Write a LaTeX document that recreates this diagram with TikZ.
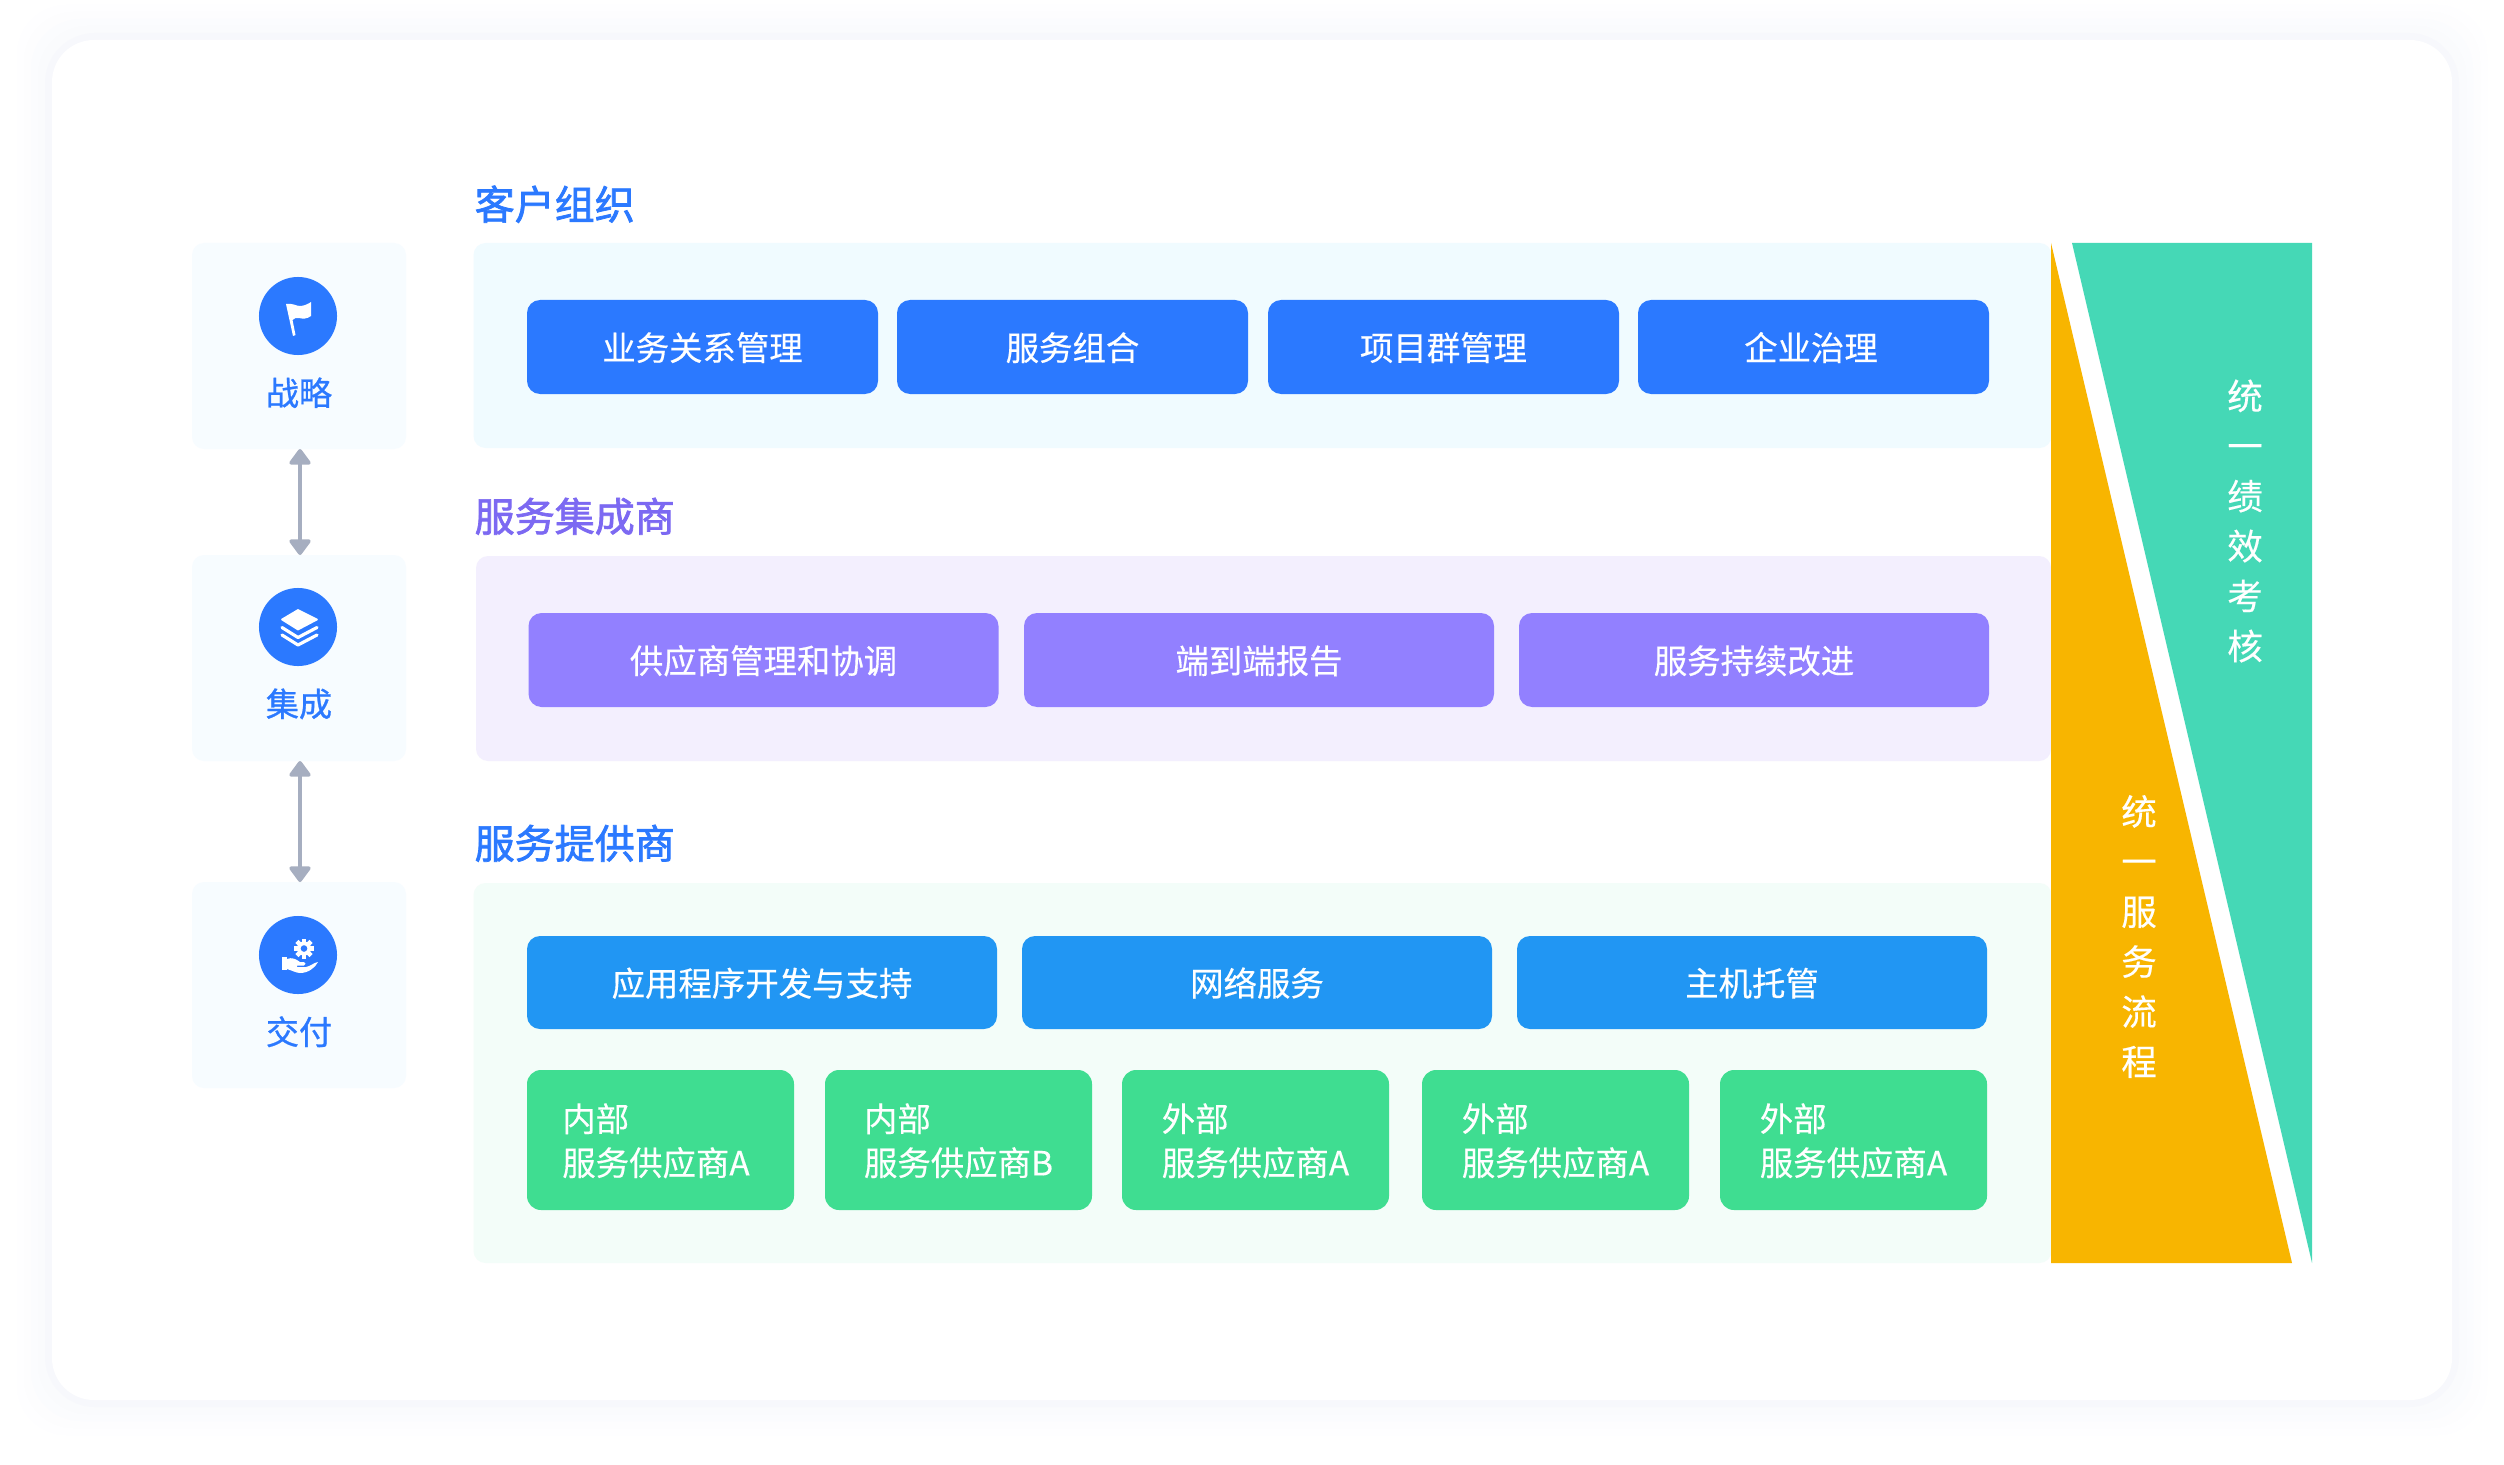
\documentclass[tikz,border=0pt]{standalone}
\usepackage{fontspec}
\usetikzlibrary{arrows.meta}
\setmainfont[FakeBold=0.35]{Noto Sans CJK SC}
\newfontfamily\cjkmed[FakeBold=1.8]{Noto Sans CJK SC}
\newfontfamily\cjklab[FakeBold=0.9]{Noto Sans CJK SC}
\definecolor{cBlue}{HTML}{2B79FF}
\definecolor{cPurple}{HTML}{9280FF}
\definecolor{cSky}{HTML}{2196F3}
\definecolor{cGreen}{HTML}{3FDD91}
\definecolor{cTitleP}{HTML}{7C69F2}
\definecolor{pA}{HTML}{F0FBFF}
\definecolor{pB}{HTML}{F3EFFE}
\definecolor{pC}{HTML}{F3FDF9}
\definecolor{pL}{HTML}{F7FCFF}
\definecolor{cArrow}{HTML}{A6AEC0}
\definecolor{cTeal}{HTML}{45D8B6}
\definecolor{cYellow}{HTML}{F8B500}
\tikzset{
  sized/.style 2 args={minimum width=#1*0.01cm,minimum height=#2*0.01cm,inner sep=0pt,outer sep=0pt},
  panel/.style={fill=#1,rounded corners=0.12cm,draw=none},
  btn/.style={fill=#1,text=white,rounded corners=0.13cm,font=\fontsize{9.5pt}{12.5pt}\selectfont,text height=0.31cm,text depth=0.042cm},
  gbtn/.style={fill=cGreen,text=white,rounded corners=0.14cm,font=\fontsize{9.5pt}{12.5pt}\selectfont,align=left,sized={#1}{140},text height=0.75cm,text depth=0.042cm},
  heading/.style={anchor=west,inner sep=0pt,font=\fontsize{11.38pt}{12pt}\cjkmed,text height=0.36cm,text depth=0.05cm},
  sidetext/.style={text=cBlue,inner sep=0pt,font=\fontsize{9.4pt}{12pt}\cjklab,text height=0.31cm,text depth=0.042cm},
  vtext/.style={text=white,inner sep=0pt,align=center,font=\fontsize{10.1pt}{14.226pt}\selectfont},
  iconc/.style={circle,fill=cBlue,minimum size=0.78cm,inner sep=0pt},
  dbl/.style={draw=cArrow,line width=1.05pt,{Triangle[width=0.24cm,length=0.17cm,round]}-{Triangle[width=0.24cm,length=0.17cm,round]}}
}
\begin{document}
\begin{tikzpicture}[x=0.01cm,y=-0.01cm]
\useasboundingbox (0,0) rectangle (2504,1464);
\fill[white] (0,0) rectangle (2504,1464);
% card shadow
\foreach \e/\c in {35/FEFEFF,28/FDFDFE,21/FBFCFE,14/FAFBFD,7/F7F8FC}{
  \definecolor{tmpc}{HTML}{\c}
  \fill[tmpc,rounded corners=0.5cm] ({52-\e},{40-\e}) rectangle ({2452+\e},{1400+\e});
}
\node[fill=white,rounded corners=0.42cm,sized={2400}{1360}] (card) at (1252,720) {};
% left boxes
\node[panel=pL,sized={214}{206}] (lA) at (299,346) {};
\node[panel=pL,sized={214}{206}] (lB) at (299,658) {};
\node[panel=pL,sized={214}{206}] (lC) at (299,985) {};
\draw[dbl] ([xshift=0.01cm]lA.south) -- ([xshift=0.01cm]lB.north);
\draw[dbl] ([xshift=0.01cm]lB.south) -- ([xshift=0.01cm]lC.north);
\node[iconc] (iA) at (298,316) {};
\node[iconc] (iB) at (298,627) {};
\node[iconc] (iC) at (298,955) {};
\node[sidetext] (tA) at (299,392) {战略};
\node[sidetext] (tB) at (299,703) {集成};
\node[sidetext] (tC) at (299,1031) {交付};
% flag
\fill[white] (286,304) .. controls (293,303) and (296,306) .. (300,306) .. controls (304,306) and (308,304) .. (311,302) -- (311,316) .. controls (307,319) and (303,319) .. (299,318) .. controls (296,318) and (294,318) .. (292.5,320) -- (295.5,335) -- (293,336) -- cycle;
% layers
\fill[white,draw=white,line width=0.5pt,line join=round] (282,619.5) -- (298,610) -- (317,619.5) -- (298,629.5) -- cycle;
\draw[white,line width=0.9pt,line cap=round,line join=round] (282,627.5) -- (298,637.5) -- (317,627.5);
\draw[white,line width=0.9pt,line cap=round,line join=round] (282,635) -- (298,645) -- (317,635);
% hand and gear
\fill[white] (304,948.5) circle (0.07cm);
\foreach \a in {0,45,...,315}{
  \fill[white,rotate around={\a:(304,948.5)}] (301.8,938.5) rectangle (306.2,943);
}
\fill[cBlue] (304,948.5) circle (0.033cm);
\fill[white] (282,957) rectangle (286.5,970);
\fill[white] (287,959) .. controls (292,957) and (296,959) .. (300,962) -- (304,962) .. controls (306,962.5) and (306,965) .. (304,965.5) -- (297,965.5) -- (297,967) -- (306,967) .. controls (310,966.5) and (314,962.5) .. (318,962) .. controls (315,968) and (308,973) .. (300,973) .. controls (296,973) and (291,970) .. (287,969) -- cycle;
% panels
\node[heading,text=cBlue] (hA) at (474,204) {客户组织};
\node[heading,text=cTitleP] (hB) at (474,516) {服务集成商};
\node[heading,text=cBlue] (hC) at (474,843) {服务提供商};
\node[panel=pA,sized={1578}{205}] (pnA) at (1262.5,345.5) {};
\node[panel=pB,sized={1575}{205}] (pnB) at (1263.5,658.5) {};
\node[panel=pC,sized={1578}{380}] (pnC) at (1262.5,1073) {};
% row 1
\node[btn=cBlue,sized={351}{94}] (a1) at (702.5,347) {业务关系管理};
\node[btn=cBlue,sized={351}{94}] (a2) at (1072.5,347) {服务组合};
\node[btn=cBlue,sized={351}{94}] (a3) at (1443.5,347) {项目群管理};
\node[btn=cBlue,sized={351}{94}] (a4) at (1813.5,347) {\hspace*{-0.05cm}企业治理};
% row 2
\node[btn=cPurple,sized={470}{94}] (b1) at (763.5,660) {供应商管理和协调};
\node[btn=cPurple,sized={470}{94}] (b2) at (1259,660) {端到端报告};
\node[btn=cPurple,sized={470}{94}] (b3) at (1754,660) {服务持续改进};
% row 3
\node[btn=cSky,sized={470}{93}] (c1) at (762,982.5) {应用程序开发与支持};
\node[btn=cSky,sized={470}{93}] (c2) at (1257,982.5) {网络服务};
\node[btn=cSky,sized={470}{93}] (c3) at (1752,982.5) {主机托管};
% row 4
\node[gbtn=267] (d1) at (660.5,1140) {内部\\服务供应商A\hspace*{0.09cm}};
\node[gbtn=267] (d2) at (958.5,1140) {内部\\服务供应商B};
\node[gbtn=267] (d3) at (1255.5,1140) {外部\\服务供应商A};
\node[gbtn=267] (d4) at (1555.5,1140) {外部\\服务供应商A};
\node[gbtn=267] (d5) at (1853.5,1140) {外部\\服务供应商A};
% right wedges
\fill[cYellow] (2051,243) -- (2292,1263) -- (2051,1263) -- cycle;
\fill[cTeal] (2072,243) -- (2312,243) -- (2312,1263) -- cycle;
\node[vtext] (vA) at (2245,521) {统\\一\\绩\\效\\考\\核};
\node[vtext] (vB) at (2139,936.5) {统\\一\\服\\务\\流\\程};
\end{tikzpicture}
\end{document}
